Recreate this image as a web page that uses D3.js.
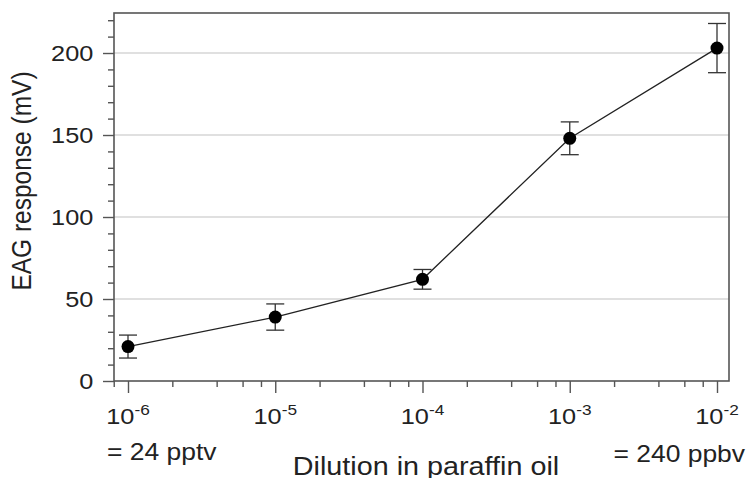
<html>
<head>
<script src="https://d3js.org/d3.v7.min.js"></script>
<style>
  body { margin: 0; background: white; }
  svg text { font-family: "Liberation Sans", Arial, Helvetica, sans-serif; fill: #222; }
</style>
</head>
<body>
<svg id="chart" width="747" height="478"></svg>
<script>
// values
const dilution = [1e-6, 1e-5, 1e-4, 1e-3, 1e-2];
const response = [21, 39, 62, 148, 203];
const errorBar = [7, 8, 6, 10, 15];
const yTicks = [0, 50, 100, 150, 200];
const xTickExp = ["-6", "-5", "-4", "-3", "-2"];
const leftNote = "= 24 pptv";
const rightNote = "= 240 ppbv";

const stretch = "scale(1.15,1)"; // reference text is drawn a bit wide

var svg = d3.select("#chart");
var margin = {left: 114, top: 13};
var width = 615, height = 368;

var x = d3.scaleLog().domain([1e-6, 1e-2]).range([14, 603]);
var y = d3.scaleLinear().domain([0, 224.4]).range([height, 0]);

var g = svg.append("g")
  .attr("transform", "translate(" + margin.left + "," + margin.top + ")");

// grid lines
g.selectAll(".grid")
  .data(yTicks.filter(d => d > 0))
  .enter().append("line")
  .attr("x1", 0).attr("x2", width)
  .attr("y1", d => y(d)).attr("y2", d => y(d))
  .style("stroke", "#d6d6d6").style("stroke-width", 1.3);

// Y axis, minor then major
var yMinor = d3.range(10, 230, 10).filter(d => d % 50 != 0);
g.append("g")
  .call(d3.axisLeft(y).tickValues(yMinor).tickSize(6).tickFormat(""))
  .call(a => a.select(".domain").remove());
g.append("g")
  .attr("class", "yaxis")
  .call(d3.axisLeft(y).tickValues(yTicks).tickSize(11).tickPadding(0))
  .call(a => a.select(".domain").remove());
g.select(".yaxis").selectAll("text")
  .attr("x", -18)
  .attr("transform", stretch)
  .style("font-size", "22px");

// X axis, minor then major
var xMinor = [];
[-7, -6, -5, -4, -3, -2].forEach(function(e) {
  [2, 4, 6, 8].forEach(function(k) { xMinor.push(k * Math.pow(10, e)); });
});
xMinor = xMinor.filter(v => x(v) >= -1 && x(v) <= width + 1);
g.append("g")
  .attr("transform", "translate(0," + height + ")")
  .call(d3.axisBottom(x).tickValues(xMinor).tickSize(6).tickFormat(""))
  .call(a => a.select(".domain").remove());
g.append("g")
  .attr("transform", "translate(0," + height + ")")
  .call(d3.axisBottom(x).tickValues(dilution).tickSize(12).tickFormat(""))
  .call(a => a.select(".domain").remove());

g.selectAll(".tick line").style("stroke", "#555").style("stroke-width", 1.4);

// x tick labels as powers of ten
var xl = g.selectAll(".xlab")
  .data(dilution)
  .enter().append("text")
  .attr("transform", d => "translate(" + x(d) + "," + (height + 43) + ") " + stretch)
  .attr("text-anchor", "middle")
  .style("font-size", "22px");
xl.append("tspan").text("10");
xl.append("tspan").attr("dy", -9).style("font-size", "15px").text((d, i) => xTickExp[i]);

// frame
g.append("rect")
  .attr("x", 0).attr("y", 0).attr("width", width).attr("height", height)
  .style("fill", "none").style("stroke", "#555").style("stroke-width", 1.6);

// error bars
var eb = g.selectAll(".err").data(dilution).enter().append("g")
  .style("stroke", "#333").style("stroke-width", 1.3);
eb.append("line")
  .attr("x1", d => x(d)).attr("x2", d => x(d))
  .attr("y1", (d, i) => y(response[i] + errorBar[i]))
  .attr("y2", (d, i) => y(response[i] - errorBar[i]));
eb.append("line")
  .attr("x1", d => x(d) - 9).attr("x2", d => x(d) + 9)
  .attr("y1", (d, i) => y(response[i] + errorBar[i]))
  .attr("y2", (d, i) => y(response[i] + errorBar[i]));
eb.append("line")
  .attr("x1", d => x(d) - 9).attr("x2", d => x(d) + 9)
  .attr("y1", (d, i) => y(response[i] - errorBar[i]))
  .attr("y2", (d, i) => y(response[i] - errorBar[i]));

// line and points
var line = d3.line()
  .x(d => x(d[0]))
  .y(d => y(d[1]));
g.append("path")
  .datum(dilution.map((d, i) => [d, response[i]]))
  .attr("d", line)
  .style("fill", "none").style("stroke", "#222").style("stroke-width", 1.3);

g.selectAll(".pt").data(dilution).enter().append("circle")
  .attr("cx", d => x(d))
  .attr("cy", (d, i) => y(response[i]))
  .attr("r", 6.5)
  .style("fill", "black");

// labels
svg.append("text")
  .attr("transform", "translate(31,181) " + stretch + " rotate(-90)")
  .attr("text-anchor", "middle")
  .style("font-size", "24.5px")
  .text("EAG response (mV)");

svg.append("text")
  .attr("transform", "translate(426,475) " + stretch)
  .attr("text-anchor", "middle")
  .style("font-size", "25px")
  .text("Dilution in paraffin oil");

svg.append("text")
  .attr("transform", "translate(107,460) " + stretch)
  .style("font-size", "23px")
  .text(leftNote);

svg.append("text")
  .attr("transform", "translate(745,462) " + stretch)
  .attr("text-anchor", "end")
  .style("font-size", "23px")
  .text(rightNote);
</script>
</body>
</html>
